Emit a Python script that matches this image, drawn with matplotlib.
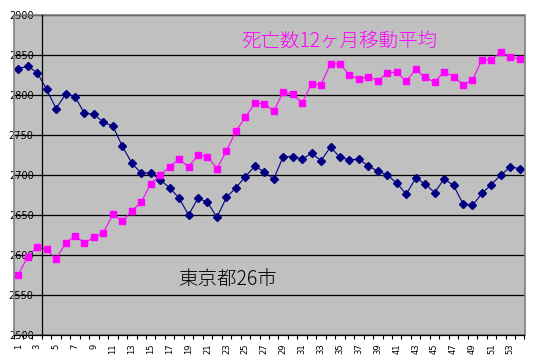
import matplotlib
matplotlib.use("Agg")
import matplotlib.pyplot as plt
from matplotlib.patches import Rectangle

months = list(range(1, 55))
tokyo26 = [2833, 2836, 2828, 2807, 2783, 2801, 2798, 2777, 2776, 2766,
           2761, 2736, 2715, 2702, 2703, 2694, 2684, 2671, 2650, 2671,
           2666, 2647, 2672, 2684, 2698, 2711, 2704, 2695, 2723, 2723,
           2720, 2727, 2718, 2735, 2722, 2719, 2720, 2711, 2705, 2700,
           2690, 2676, 2696, 2689, 2678, 2695, 2687, 2664, 2662, 2677,
           2688, 2700, 2710, 2708]
other = [2575, 2598, 2610, 2607, 2595, 2615, 2624, 2615, 2622, 2628,
         2651, 2642, 2655, 2666, 2689, 2700, 2710, 2720, 2710, 2725,
         2723, 2708, 2730, 2755, 2772, 2790, 2789, 2780, 2804, 2801,
         2790, 2814, 2813, 2839, 2839, 2825, 2820, 2823, 2818, 2827,
         2829, 2817, 2832, 2822, 2816, 2829, 2823, 2813, 2819, 2844,
         2844, 2854, 2847, 2845]
yticks = [2500, 2550, 2600, 2650, 2700, 2750, 2800, 2850, 2900]
xtick_labels = [str(m) for m in months if m % 2 == 1]
title_text = "死亡数12ヶ月移動平均"
series_text = "東京都26市"

fig = plt.figure(figsize=(5.34, 3.62), dpi=100)
fig.patch.set_facecolor("white")
ax = fig.add_axes([13.5 / 534, 1 - 335 / 362, 511 / 534, 320 / 362])
ax.set_facecolor("#C0C0C0")

for y in yticks[1:]:
    ax.axhline(y, color="black", linewidth=0.9, zorder=1)

ax.plot(months, tokyo26, color="#000080", marker="D", markersize=4.3,
        linewidth=0.8, zorder=3, clip_on=False)
ax.plot(months, other, color="#FF00FF", marker="s", markersize=4.8,
        linewidth=0.8, zorder=3, clip_on=False)

ax.set_xlim(0.5, 54.5)
ax.set_ylim(2500, 2900)

for s in ["top", "right"]:
    ax.spines[s].set_visible(False)
ax.add_patch(Rectangle((0, 0), 1, 1, transform=ax.transAxes, fill=False,
                       edgecolor="#808080", linewidth=1.2, zorder=4, clip_on=False))
ax.spines["left"].set_position(("data", 3.5))
ax.spines["left"].set_color("black")
ax.spines["left"].set_linewidth(0.9)
ax.spines["left"].set_zorder(5)
ax.spines["bottom"].set_color("black")
ax.spines["bottom"].set_linewidth(0.9)
ax.spines["bottom"].set_zorder(5)

ax.set_yticks(yticks)
ax.set_yticklabels([str(y) for y in yticks], fontsize=7, family="DejaVu Sans")
ax.tick_params(axis="y", direction="out", length=2.5, width=0.8, pad=3.5)

ax.set_xticks([m for m in months if m % 2 == 1])
ax.set_xticklabels(xtick_labels, rotation=90, fontsize=6, family="DejaVu Sans")
ax.set_xticks([m + 0.5 for m in range(0, 55)], minor=True)
ax.tick_params(axis="x", which="major", length=0, pad=6)
ax.tick_params(axis="x", which="minor", direction="out", length=3, width=0.8)

fig.text(241 / 534, 1 - 41 / 362, title_text, color="#FF00FF", fontsize=14,
         family=["Noto Sans CJK JP", "DejaVu Sans"], fontweight="light",
         va="center", ha="left")
fig.text(178 / 534, 1 - 279 / 362, series_text, color="black", fontsize=14,
         family=["Noto Sans CJK JP", "DejaVu Sans"], fontweight="light",
         va="center", ha="left")

fig.savefig("out.png", dpi=100, facecolor="white")
